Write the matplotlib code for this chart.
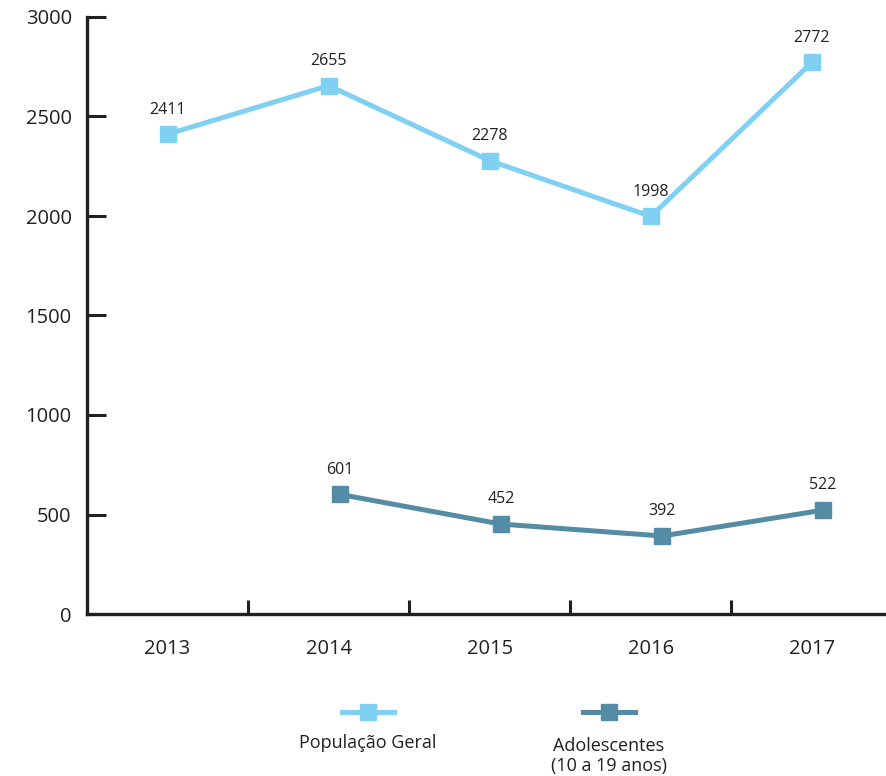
import matplotlib
matplotlib.use("Agg")
import numpy as np
import matplotlib.pyplot as plt
from matplotlib.lines import Line2D
from matplotlib.ticker import FixedLocator

plt.rcParams["font.family"] = ["Open Sans", "DejaVu Sans"]

years = ["2013", "2014", "2015", "2016", "2017"]
geral = [2411, 2655, 2278, 1998, 2772]
adol_years = ["2014", "2015", "2016", "2017"]
adolescentes = [601, 452, 392, 522]

LIGHT = "#80d0f4"
DARK = "#548ca6"
TEXT = "#231f20"

fig = plt.figure(figsize=(8.86, 7.76), dpi=100)
ax = fig.add_axes([87 / 886, 162 / 776, 799 / 886, 597 / 776])

x_all = np.arange(len(years))
x_adol = np.array([years.index(y) for y in adol_years]) + 0.07

ax.plot(x_all, geral, color=LIGHT, lw=3.6, marker="s", ms=11.5, zorder=3)
ax.plot(x_adol, adolescentes, color=DARK, lw=3.6, marker="s", ms=11.5, zorder=3)

for x, v in zip(x_all, geral):
    ax.annotate(f"{v}", (x, v), xytext=(0, 12), textcoords="offset points",
                ha="center", va="bottom", fontsize=11.5, color=TEXT)
for x, v in zip(x_adol, adolescentes):
    ax.annotate(f"{v}", (x, v), xytext=(0, 12), textcoords="offset points",
                ha="center", va="bottom", fontsize=11.5, color=TEXT)

ax.set_xlim(-0.5, 4.46)
ax.set_ylim(0, 3000)
ax.set_yticks(np.arange(0, 3001, 500))
ax.set_xticks(x_all)
ax.set_xticklabels(years)
ax.xaxis.set_minor_locator(FixedLocator([0.5, 1.5, 2.5, 3.5]))

for s in ["top", "right"]:
    ax.spines[s].set_visible(False)
for s in ["left", "bottom"]:
    ax.spines[s].set_linewidth(2.4)
    ax.spines[s].set_color(TEXT)

ax.tick_params(axis="y", direction="in", length=14, width=2.2, color=TEXT,
               pad=11, labelsize=14.5, labelcolor=TEXT)
ax.tick_params(axis="x", which="major", length=0, pad=18, labelsize=14.5, labelcolor=TEXT)
ax.tick_params(axis="x", which="minor", direction="in", length=10, width=2.2, color=TEXT)

# legend drawn by hand, labels under the keys
def key(cx, color):
    fig.add_artist(Line2D([(cx - 26) / 886, (cx + 26) / 886], [1 - 712 / 776] * 2,
                          transform=fig.transFigure, color=color, lw=3.6))
    fig.add_artist(Line2D([cx / 886], [1 - 712 / 776], transform=fig.transFigure,
                          color=color, marker="s", ms=11.5, lw=0))

key(368, LIGHT)
key(609, DARK)
fig.text(368 / 886, 1 - 743 / 776, "População Geral", ha="center", va="center",
         fontsize=13, color=TEXT)
fig.text(609 / 886, 1 - 756 / 776, "Adolescentes\n(10 a 19 anos)", ha="center",
         va="center", fontsize=13, color=TEXT, linespacing=1.2)

fig.savefig("out.png", dpi=100)
